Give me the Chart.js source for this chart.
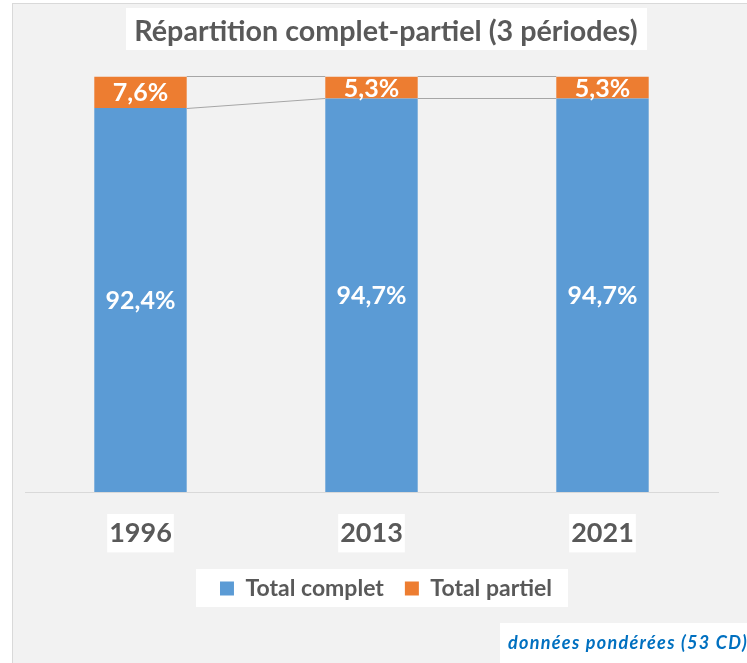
<!DOCTYPE html>
<html><head><meta charset="utf-8">
<script src="https://cdn.jsdelivr.net/npm/chart.js@4.4.1/dist/chart.umd.min.js"></script>
<style>
html,body{margin:0;padding:0;background:#fff;overflow:hidden;}
#bg{position:absolute;left:12px;top:3px;width:760px;height:700px;background:#F2F2F2;border-left:1px solid #D9D9D9;border-top:1px solid #D9D9D9;}
#c{position:absolute;left:0;top:0;}
</style></head><body>
<div id="bg"></div>
<canvas id="c" width="747" height="663"></canvas>
<script>
const categories = ['1996', '2013', '2021'];
const totalComplet = [92.4, 94.7, 94.7];
const totalPartiel = [7.6, 5.3, 5.3];
const seriesNames = ['Total complet', 'Total partiel'];
const chartTitle = 'Répartition complet-partiel (3 périodes)';
const footnote = 'données pondérées (53 CD)';

const GRAY = '#595959';
const FONT = 'Lato, "Open Sans", sans-serif';

function fmt(v){ return v.toFixed(1).replace('.', ',') + '%'; }

const decor = {
  id: 'decor',
  beforeDraw(chart){
    const ctx = chart.ctx;
    ctx.save();
    ctx.fillStyle = '#fff';
    // title box
    const tb = chart.titleBlock;
    ctx.font = 'bold 28.7px ' + FONT;
    const tw = ctx.measureText(chartTitle).width;
    const cx = (tb.left + tb.right) / 2;
    ctx.fillRect(Math.round(cx - tw/2 - 8), 8, Math.round(tw + 18), 42);
    // legend box
    const lg = chart.legend;
    if (lg && lg.legendHitBoxes && lg.legendHitBoxes.length){
      let l = Infinity, r = -Infinity, t = Infinity, b = -Infinity;
      lg.legendHitBoxes.forEach(h => { l = Math.min(l, h.left); r = Math.max(r, h.left + h.width); t = Math.min(t, h.top); b = Math.max(b, h.top + h.height); });
      const cy = (t + b) / 2;
      ctx.fillRect(Math.round(l - 24), Math.round(cy - 20), Math.round(r - l + 40), 38);
    }
    ctx.restore();
  },
  afterDatasetsDraw(chart){
    const ctx = chart.ctx;
    ctx.save();
    // series lines
    ctx.strokeStyle = '#A6A6A6';
    ctx.lineWidth = 1;
    chart.data.datasets.forEach((ds, di) => {
      const els = chart.getDatasetMeta(di).data;
      for (let i = 0; i < els.length - 1; i++){
        const a = els[i], b = els[i+1];
        ctx.beginPath();
        ctx.moveTo(a.x + a.width/2, Math.round(a.y) + 0.5);
        ctx.lineTo(b.x - b.width/2, Math.round(b.y) + 0.5);
        ctx.stroke();
      }
    });
    // data labels
    ctx.fillStyle = '#fff';
    ctx.font = 'bold 25px ' + FONT;
    ctx.textAlign = 'center';
    ctx.textBaseline = 'middle';
    chart.data.datasets.forEach((ds, di) => {
      chart.getDatasetMeta(di).data.forEach((el, i) => {
        ctx.fillText(fmt(ds.data[i]), el.x, (el.y + el.base) / 2 + 1);
      });
    });
    ctx.restore();
  },
  afterDraw(chart){
    const ctx = chart.ctx;
    ctx.save();
    ctx.fillStyle = '#fff';
    ctx.fillRect(500, 623, 260, 45);
    ctx.fillStyle = '#0070C0';
    ctx.font = 'italic bold 18px ' + FONT;
    ctx.letterSpacing = '1.3px';
    ctx.textAlign = 'left';
    ctx.textBaseline = 'alphabetic';
    ctx.fillText(footnote, 508, 649);
    ctx.restore();
  }
};

new Chart(document.getElementById('c'), {
  type: 'bar',
  data: {
    labels: categories,
    datasets: [
      { label: seriesNames[0], data: totalComplet, backgroundColor: '#5B9BD5', barPercentage: 0.4, categoryPercentage: 1 },
      { label: seriesNames[1], data: totalPartiel, backgroundColor: '#ED7D31', barPercentage: 0.4, categoryPercentage: 1 }
    ]
  },
  options: {
    responsive: false,
    animation: false,
    devicePixelRatio: 1,
    layout: { padding: { left: 25, right: 0, top: 0, bottom: 53 } },
    plugins: {
      title: { display: true, text: chartTitle, color: GRAY, font: { family: FONT, size: 28.7, weight: 'bold' }, padding: { top: 15, bottom: 27 } },
      legend: { position: 'bottom', labels: { color: GRAY, font: { family: FONT, size: 23, weight: 'bold' }, boxWidth: 14, boxHeight: 14, padding: 21 } },
      tooltip: { enabled: false }
    },
    scales: {
      x: {
        stacked: true,
        grid: { display: false, drawTicks: false },
        border: { display: true, color: '#D9D9D9', width: 1 },
        ticks: { color: GRAY, font: { family: FONT, size: 27, weight: 'bold' }, padding: 25, showLabelBackdrop: true, backdropColor: '#fff', backdropPadding: { x: 2, y: 3 } },
        afterFit(s){ s.height = 64; }
      },
      y: {
        stacked: true, position: 'right', min: 0, max: 100,
        grid: { display: false, drawTicks: false }, border: { display: false },
        ticks: { display: false },
        afterFit(s){ s.width = 29; }
      }
    }
  },
  plugins: [decor]
});
</script>
</body></html>
